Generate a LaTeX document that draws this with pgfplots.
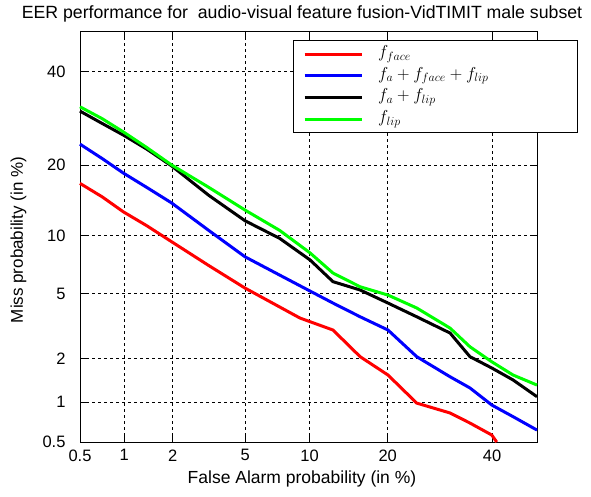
\documentclass[border=0pt]{standalone}
\usepackage{fontspec}
\setmainfont{Liberation Sans}
\usepackage{pgfplots}
\pgfplotsset{compat=1.18}
\begin{document}
\begin{tikzpicture}[x=1pt,y=1pt]
\path[use as bounding box] (-80,-55) rectangle (511,442);
\begin{axis}[
  at={(0,0)}, anchor=south west,
  scale only axis, width=457pt, height=411pt,
  xmin=-2.5758, xmax=0, ymin=-2.5758, ymax=0,
  xtick={-2.5758,-2.3263,-2.0537,-1.6449,-1.2816,-0.8416,-0.2533},
  xticklabels={0.5,1,2,5,10,20,40},
  ytick={-2.5758,-2.3263,-2.0537,-1.6449,-1.2816,-0.8416,-0.2533},
  yticklabels={0.5,1,2,5,10,20,40},
  /pgf/number format/assume math mode=true,
  ticklabel style={font=\fontsize{16.5}{18}\selectfont},
  xticklabel style={yshift=-4pt},
  yticklabel style={xshift=-11pt},
  grid=major,
  major grid style={black, line width=0.6pt, dash pattern=on 3pt off 3pt},
  tick align=inside, major tick length=7pt,
  tick style={black, line width=0.6pt},
  axis line style={black, line width=0.9pt},
  clip=false,
  legend style={draw=none, fill=none, at={(rel axis cs:0.488,0.965)}, anchor=north west,
    inner sep=0pt, row sep=4.7pt, column sep=15pt,
    nodes={inner sep=0pt, text height=12pt, text depth=5pt, font=\fontsize{17}{20}\selectfont}},
  legend cell align=left,
  legend image code/.code={\draw[#1, line width=3pt] (0pt,0pt) -- (57pt,0pt);},
]
\addplot[red, line width=3pt] coordinates {
(-2.576,-0.955) (-2.45,-1.04) (-2.332,-1.133) (-2.20,-1.22) (-2.059,-1.321) (-1.85,-1.47) (-1.646,-1.611) (-1.336,-1.799) (-1.279,-1.822) (-1.150,-1.874) (-0.997,-2.041) (-0.840,-2.156) (-0.678,-2.332) (-0.490,-2.394) (-0.378,-2.457) (-0.255,-2.532) (-0.227,-2.576)};
\addplot[blue, line width=3pt] coordinates {
(-2.576,-0.709) (-2.45,-0.80) (-2.332,-0.890) (-2.20,-0.98) (-2.059,-1.078) (-1.85,-1.25) (-1.646,-1.415) (-1.45,-1.53) (-1.279,-1.630) (-1.150,-1.705) (-0.997,-1.791) (-0.840,-1.874) (-0.678,-2.041) (-0.490,-2.167) (-0.378,-2.237) (-0.255,-2.344) (-0.135,-2.417) (0,-2.501)};
\addplot[black, line width=3pt] coordinates {
(-2.576,-0.502) (-2.45,-0.58) (-2.332,-0.652) (-2.20,-0.74) (-2.059,-0.846) (-1.85,-1.03) (-1.646,-1.189) (-1.45,-1.30) (-1.279,-1.435) (-1.150,-1.571) (-0.997,-1.623) (-0.840,-1.705) (-0.678,-1.791) (-0.490,-1.893) (-0.378,-2.041) (-0.255,-2.112) (-0.135,-2.187) (0,-2.292)};
\addplot[green, line width=3pt] coordinates {
(-2.576,-0.475) (-2.45,-0.55) (-2.332,-0.632) (-2.20,-0.73) (-2.059,-0.840) (-1.85,-0.98) (-1.646,-1.122) (-1.45,-1.25) (-1.279,-1.391) (-1.150,-1.517) (-0.997,-1.603) (-0.840,-1.655) (-0.678,-1.736) (-0.490,-1.862) (-0.378,-1.979) (-0.255,-2.073) (-0.135,-2.156) (0,-2.219)};
\draw[black, line width=0.8pt, fill=white] (rel axis cs:0.4661,0.7543) rectangle (rel axis cs:1.0875,0.978);
\legend{$f_{face}$,$f_a+f_{face}+f_{lip}$,$f_a+f_{lip}$,$f_{lip}$}
\end{axis}
\node[font=\fontsize{17.7}{20}\selectfont] at (222,428) {EER performance for\ \ audio-visual feature fusion-VidTIMIT male subset};
\node[font=\fontsize{17.5}{20}\selectfont] at (222,-37) {False Alarm probability (in \%)};
\node[font=\fontsize{17}{20}\selectfont, rotate=90] at (-61.5,202) {Miss probability (in \%)};
\end{tikzpicture}
\end{document}
